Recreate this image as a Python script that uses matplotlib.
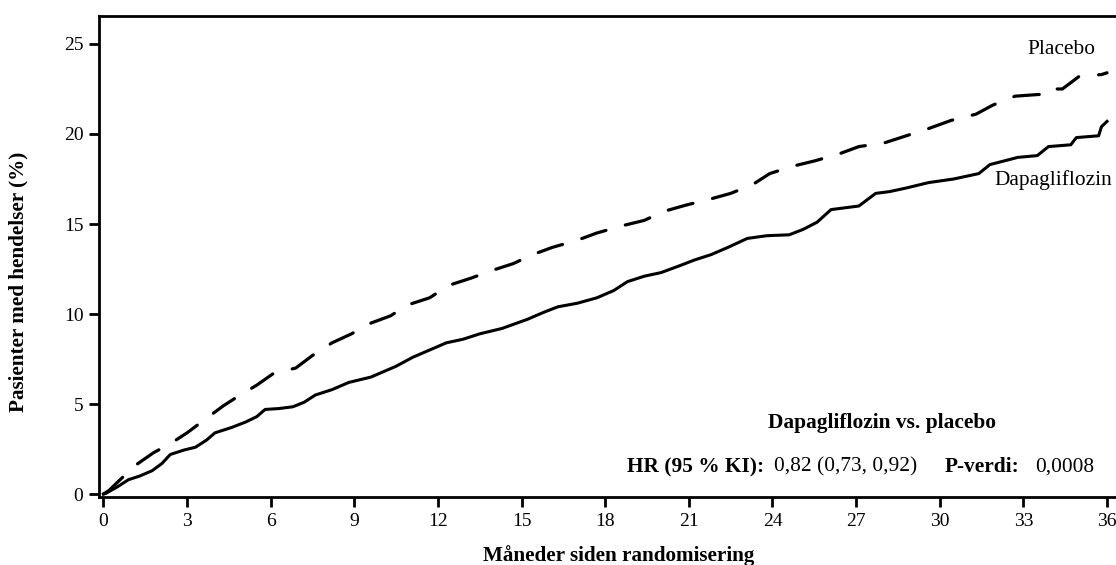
import matplotlib
matplotlib.use("Agg")
import matplotlib.pyplot as plt

# Cumulative event curves (% patients with event) by months since randomisation
dapa_months = [0, 0.1, 0.5, 0.9, 1.3, 1.75, 2.1, 2.4, 2.9, 3.3, 3.7, 4.0, 4.6, 5.1, 5.5,
               5.8, 6.3, 6.8, 7.2, 7.6, 8.2, 8.8, 9.6, 10.5, 11.1, 11.7, 12.3, 12.9, 13.5,
               14.3, 15.2, 15.8, 16.3, 17.0, 17.7, 18.3, 18.8, 19.4, 20.0, 20.7, 21.2, 21.8,
               22.4, 23.1, 23.8, 24.6, 25.1, 25.6, 26.1, 26.6, 27.1, 27.7, 28.2, 28.8, 29.6,
               30.5, 31.4, 31.8, 32.8, 33.5, 33.9, 34.7, 34.9, 35.7, 35.8, 36.0]
dapa_pct = [0, 0.05, 0.4, 0.8, 1.0, 1.3, 1.7, 2.2, 2.45, 2.6, 3.0, 3.4, 3.7, 4.0, 4.3,
            4.7, 4.75, 4.85, 5.1, 5.5, 5.8, 6.2, 6.5, 7.1, 7.6, 8.0, 8.4, 8.6, 8.9,
            9.2, 9.7, 10.1, 10.4, 10.6, 10.9, 11.3, 11.8, 12.1, 12.3, 12.7, 13.0, 13.3,
            13.7, 14.2, 14.35, 14.4, 14.7, 15.1, 15.8, 15.9, 16.0, 16.7, 16.8, 17.0, 17.3,
            17.5, 17.8, 18.3, 18.7, 18.8, 19.3, 19.4, 19.8, 19.9, 20.4, 20.7]

placebo_months = [0, 0.2, 0.6, 1.15, 1.8, 2.4, 3.0, 3.6, 4.3, 4.8, 5.5, 6.1, 6.9, 7.5, 8.2,
                  8.9, 9.6, 10.3, 10.9, 11.7, 12.4, 13.2, 13.9, 14.7, 15.4, 16.1, 17.0, 17.7,
                  18.6, 19.4, 20.1, 20.9, 21.8, 22.5, 23.3, 23.9, 24.7, 25.5, 26.4, 27.1,
                  28.0, 28.8, 29.6, 30.4, 31.3, 31.9, 32.7, 33.6, 33.8, 34.4, 35.0, 35.8, 36.0]
placebo_pct = [0, 0.2, 0.8, 1.6, 2.3, 2.8, 3.4, 4.1, 4.9, 5.4, 6.05, 6.7, 7.0, 7.7, 8.4,
               8.9, 9.5, 9.9, 10.5, 10.9, 11.6, 12.0, 12.4, 12.8, 13.3, 13.7, 14.1, 14.5,
               14.9, 15.2, 15.7, 16.05, 16.4, 16.7, 17.2, 17.8, 18.2, 18.5, 18.9, 19.3,
               19.5, 19.9, 20.3, 20.75, 21.1, 21.6, 22.1, 22.2, 22.5, 22.5, 23.2, 23.3, 23.4]

x_ticks = [0, 3, 6, 9, 12, 15, 18, 21, 24, 27, 30, 33, 36]
y_ticks = [0, 5, 10, 15, 20, 25]

x_label = "Måneder siden randomisering"
y_label = "Pasienter med hendelser (%)"
series_labels = ["Placebo", "Dapagliflozin"]
stats_title = "Dapagliflozin vs. placebo"
hr_label, hr_value = "HR (95 % KI):", "0,82 (0,73, 0,92)"
p_label, p_value = "P-verdi:", "0,0008"

plt.rcParams["font.family"] = ["Liberation Serif", "DejaVu Serif"]

W, H = 1116, 565
fig = plt.figure(figsize=(W / 100, H / 100), dpi=100)


def fx(px):
    return px / W


def fy(py):
    return 1 - py / H


# axes box in pixels: left 98.7, right beyond canvas, top 15.7, bottom 497.3
ax = fig.add_axes([fx(98.7), fy(497.3), fx(1130 - 98.7), fy(15.7) - fy(497.3)])

ax.plot(dapa_months, dapa_pct, color="black", lw=2.2, solid_joinstyle="round")
ax.plot(placebo_months, placebo_pct, color="black", lw=2.3,
        dashes=(8.0, 6.3), dash_capstyle="round")

ax.set_xlim(-0.17, (1130 - 103.5) / 27.875)
ax.set_ylim(-0.18, 26.57)
ax.set_xticks(x_ticks)
ax.set_yticks(y_ticks)
ax.tick_params(direction="out", length=7, width=2, labelsize=14, pad=4, color="black")

for side in ("left", "bottom", "top"):
    ax.spines[side].set_linewidth(2)
ax.spines["right"].set_visible(False)

# curve labels
fs = 15.4
fig.text(fx(1061), fy(50), series_labels[0], ha="center", va="center", fontsize=fs)
fig.text(fx(1053), fy(180), series_labels[1], ha="center", va="center", fontsize=fs)

# hazard ratio summary
fig.text(fx(768), fy(423), stats_title, ha="left", va="center",
         fontsize=fs, fontweight="bold")
fig.text(fx(627), fy(467), hr_label, ha="left", va="center", fontsize=fs, fontweight="bold")
fig.text(fx(774), fy(467), hr_value, ha="left", va="center", fontsize=fs)
fig.text(fx(945), fy(467), p_label, ha="left", va="center", fontsize=fs, fontweight="bold")
fig.text(fx(1035), fy(467), p_value, ha="left", va="center", fontsize=fs)

# axis titles
fig.text(fx(619), fy(556), x_label, ha="center", va="center", fontsize=15.2, fontweight="bold")
fig.text(fx(18), fy(282), y_label, ha="center", va="center", rotation=90,
         fontsize=15.2, fontweight="bold")

fig.savefig("out.png", dpi=100)
